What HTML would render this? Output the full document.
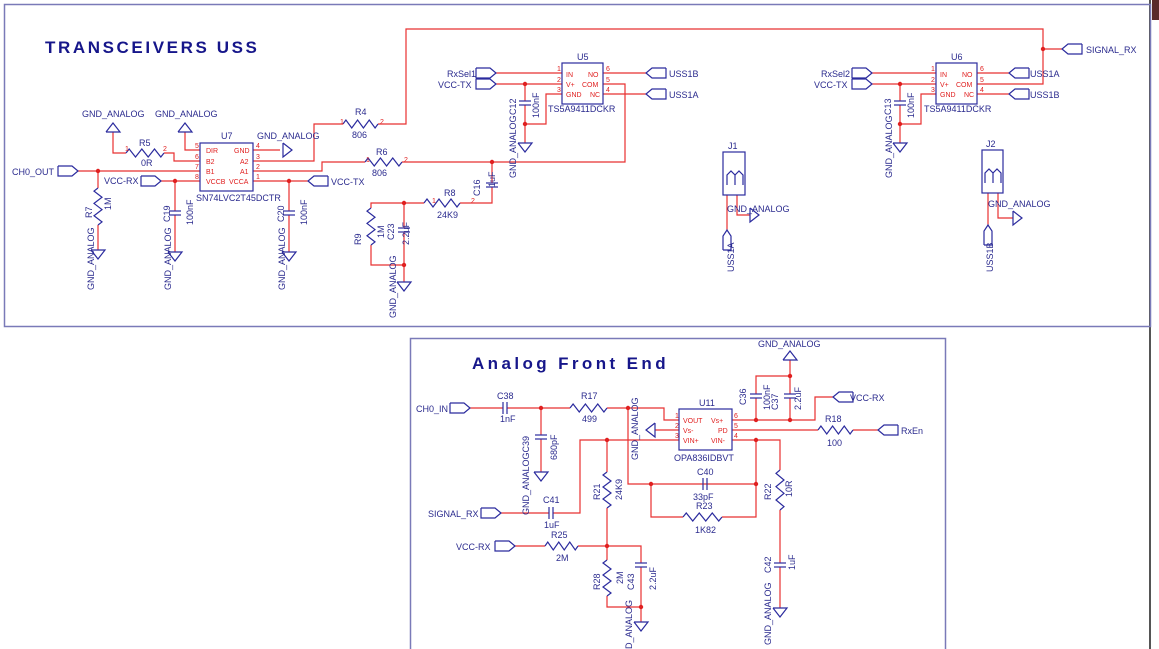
<!DOCTYPE html>
<html><head><meta charset="utf-8"><style>
html,body{margin:0;padding:0;background:#fff;width:1159px;height:649px;overflow:hidden}
svg{display:block}
text{font-family:"Liberation Sans",sans-serif;fill:#2b2b8e;font-size:9px}
.p{fill:#e02020;font-size:7px}
.t{font-size:17px;font-weight:bold;fill:#16168a}
</style></head><body>
<svg id="s" width="1159" height="649" viewBox="0 0 1159 649" xmlns="http://www.w3.org/2000/svg">
<rect x="0" y="0" width="1159" height="649" fill="#fff"/>
<rect x="1149" y="0" width="2" height="649" fill="#555"/>
<rect x="1152" y="0" width="7" height="20" fill="#5a2a2a"/>
<rect x="4.5" y="4.5" width="1146" height="322" fill="none" stroke="#7a7ab8" stroke-width="1.5"/>
<rect x="410.5" y="338.5" width="535" height="320" fill="none" stroke="#7a7ab8" stroke-width="1.5"/>
<g id="w" fill="none" stroke="#e83030" stroke-width="1.2"></g>
<g id="b" fill="none" stroke="#2b2b9e" stroke-width="1.2"></g>
<g id="j" fill="#e02020"></g>

<text class="t" x="45" y="53" style="letter-spacing:2.6px">TRANSCEIVERS USS</text>
<text class="t" x="472" y="369" style="letter-spacing:3.4px">Analog Front End</text>

<!-- U7 -->
<text x="221" y="139">U7</text>
<text x="196" y="201">SN74LVC2T45DCTR</text>
<text class="p" x="206" y="153">DIR</text><text class="p" x="206" y="164">B2</text><text class="p" x="206" y="174">B1</text><text class="p" x="206" y="184">VCCB</text>
<text class="p" x="234" y="153">GND</text><text class="p" x="240" y="164">A2</text><text class="p" x="240" y="174">A1</text><text class="p" x="229" y="184">VCCA</text>
<text class="p" x="195" y="148">5</text><text class="p" x="195" y="159">6</text><text class="p" x="195" y="169">7</text><text class="p" x="195" y="179">8</text>
<text class="p" x="256" y="148">4</text><text class="p" x="256" y="159">3</text><text class="p" x="256" y="169">2</text><text class="p" x="256" y="179">1</text>
<text x="12" y="175">CH0_OUT</text>
<text x="104" y="184">VCC-RX</text>
<text x="331" y="185">VCC-TX</text>
<text x="82" y="117">GND_ANALOG</text><text x="155" y="117">GND_ANALOG</text><text x="257" y="139">GND_ANALOG</text>
<text x="139" y="146">R5</text><text x="141" y="166">0R</text>
<text class="p" x="125" y="151">1</text><text class="p" x="163" y="151">2</text>
<text x="355" y="115">R4</text><text x="352" y="138">806</text>
<text class="p" x="340" y="124">1</text><text class="p" x="380" y="124">2</text>
<text x="376" y="155">R6</text><text x="372" y="176">806</text>
<text class="p" x="366" y="162">1</text><text class="p" x="404" y="162">2</text>
<text x="444" y="196">R8</text><text x="437" y="218">24K9</text>
<text class="p" x="432" y="203">1</text><text class="p" x="471" y="203">2</text>
<g transform="rotate(-90)">
<text x="-290" y="94">GND_ANALOG</text>
<text x="-290" y="171">GND_ANALOG</text>
<text x="-290" y="285">GND_ANALOG</text>
<text x="-218" y="92">R7</text><text x="-210" y="111">1M</text>
<text x="-222" y="170">C19</text><text x="-225" y="193">100nF</text>
<text x="-222" y="284">C20</text><text x="-225" y="307">100nF</text>
<text x="-245" y="361">R9</text><text x="-238" y="384">1M</text><text x="-240" y="394">C23</text><text x="-245" y="409">2.2uF</text>
<text x="-318" y="396">GND_ANALOG</text>
<text x="-196" y="480">C16</text><text x="-187" y="495">1uF</text>
<text x="-178" y="516">GND_ANALOG</text>
<text x="-115" y="516">C12</text><text x="-118" y="539">100nF</text>
<text x="-178" y="892">GND_ANALOG</text>
<text x="-115" y="891">C13</text><text x="-118" y="914">100nF</text>
<text x="-272" y="734">USS1A</text>
<text x="-272" y="993">USS1B</text>
</g>
<!-- U5 -->
<text x="577" y="60">U5</text><text x="548" y="112">TS5A9411DCKR</text>
<text class="p" x="566" y="77">IN</text><text class="p" x="566" y="87">V+</text><text class="p" x="566" y="97">GND</text>
<text class="p" x="588" y="77">NO</text><text class="p" x="582" y="87">COM</text><text class="p" x="590" y="97">NC</text>
<text class="p" x="557" y="71">1</text><text class="p" x="557" y="82">2</text><text class="p" x="557" y="92">3</text>
<text class="p" x="606" y="71">6</text><text class="p" x="606" y="82">5</text><text class="p" x="606" y="92">4</text>
<text x="447" y="77">RxSel1</text><text x="438" y="88">VCC-TX</text>
<text x="669" y="77">USS1B</text><text x="669" y="98">USS1A</text>
<!-- U6 -->
<text x="951" y="60">U6</text><text x="924" y="112">TS5A9411DCKR</text>
<text class="p" x="940" y="77">IN</text><text class="p" x="940" y="87">V+</text><text class="p" x="940" y="97">GND</text>
<text class="p" x="962" y="77">NO</text><text class="p" x="956" y="87">COM</text><text class="p" x="964" y="97">NC</text>
<text class="p" x="931" y="71">1</text><text class="p" x="931" y="82">2</text><text class="p" x="931" y="92">3</text>
<text class="p" x="980" y="71">6</text><text class="p" x="980" y="82">5</text><text class="p" x="980" y="92">4</text>
<text x="821" y="77">RxSel2</text><text x="814" y="88">VCC-TX</text>
<text x="1030" y="77">USS1A</text><text x="1030" y="98">USS1B</text>
<text x="1086" y="53">SIGNAL_RX</text>
<text x="728" y="149">J1</text><text x="727" y="212">GND_ANALOG</text>
<text x="986" y="147">J2</text><text x="988" y="207">GND_ANALOG</text>

<!-- Analog front end -->
<text x="699" y="406">U11</text><text x="674" y="461">OPA836IDBVT</text>
<text class="p" x="683" y="423">VOUT</text><text class="p" x="683" y="433">Vs-</text><text class="p" x="683" y="443">VIN+</text>
<text class="p" x="711" y="423">Vs+</text><text class="p" x="718" y="433">PD</text><text class="p" x="711" y="443">VIN-</text>
<text class="p" x="675" y="418">1</text><text class="p" x="675" y="428">2</text><text class="p" x="675" y="438">3</text>
<text class="p" x="734" y="418">6</text><text class="p" x="734" y="428">5</text><text class="p" x="734" y="438">4</text>
<text x="416" y="412">CH0_IN</text>
<text x="497" y="399">C38</text><text x="500" y="422">1nF</text>
<text x="581" y="399">R17</text><text x="582" y="422">499</text>
<text x="758" y="347">GND_ANALOG</text>
<text x="850" y="401">VCC-RX</text>
<text x="825" y="422">R18</text><text x="827" y="446">100</text>
<text x="901" y="434">RxEn</text>
<text x="697" y="475">C40</text><text x="693" y="500">33pF</text><text x="696" y="509">R23</text><text x="695" y="533">1K82</text>
<text x="428" y="517">SIGNAL_RX</text>
<text x="543" y="503">C41</text><text x="544" y="528">1uF</text>
<text x="551" y="538">R25</text><text x="556" y="561">2M</text>
<text x="456" y="550">VCC-RX</text>
<g transform="rotate(-90)">
<text x="-515" y="529">GND_ANALOGC39</text><text x="-460" y="557">680pF</text>
<text x="-460" y="638">GND_ANALOG</text>
<text x="-500" y="600">R21</text><text x="-500" y="622">24K9</text>
<text x="-590" y="600">R28</text><text x="-584" y="623">2M</text><text x="-590" y="634">C43</text><text x="-590" y="656">2.2uF</text>
<text x="-649" y="632">D_ANALOG</text>
<text x="-405" y="746">C36</text><text x="-410" y="770">100nF</text><text x="-410" y="778">C37</text><text x="-410" y="801">2.2uF</text>
<text x="-500" y="771">R22</text><text x="-497" y="792">10R</text>
<text x="-573" y="771">C42</text><text x="-570" y="795">1uF</text>
<text x="-645" y="771">GND_ANALOG</text>
</g>
</svg>
<script>
var NS="http://www.w3.org/2000/svg";
function el(g,t,a){var e=document.createElementNS(NS,t);for(var k in a)e.setAttribute(k,a[k]);document.getElementById(g).appendChild(e);return e;}
function W(pts){el("w","polyline",{points:pts});}
function J(x,y){el("j","circle",{cx:x,cy:y,r:2.2});}
function B(pts){el("b","polyline",{points:pts});}
function RH(x1,x2,y){var p=[],n=6,L=(x2-x1);p.push(x1+","+y);for(var i=0;i<n;i++){p.push((x1+L*(i+0.5)/n)+","+(y+(i%2?4:-4)));}p.push(x2+","+y);B(p.join(" "));}
function RV(x,y1,y2){var p=[],n=6,L=(y2-y1);p.push(x+","+y1);for(var i=0;i<n;i++){p.push((x+(i%2?4:-4))+","+(y1+L*(i+0.5)/n));}p.push(x+","+y2);B(p.join(" "));}
function CV(x,y){B((x-6)+","+(y-2)+" "+(x+6)+","+(y-2));B((x-6)+","+(y+2)+" "+(x+6)+","+(y+2));el("w","line",{x1:x,y1:y-2,x2:x,y2:y+2,stroke:"#fff","stroke-width":2});}
function CH(x,y){B((x-2)+","+(y-6)+" "+(x-2)+","+(y+6));B((x+2)+","+(y-6)+" "+(x+2)+","+(y+6));}
function GD(x,y){B((x-7)+","+y+" "+(x+7)+","+y+" "+x+","+(y+9)+" "+(x-7)+","+y);}
function GU(x,y){B((x-7)+","+y+" "+(x+7)+","+y+" "+x+","+(y-9)+" "+(x-7)+","+y);}
function GR(x,y){B(x+","+(y-7)+" "+x+","+(y+7)+" "+(x+9)+","+y+" "+x+","+(y-7));}
function GL(x,y){B(x+","+(y-7)+" "+x+","+(y+7)+" "+(x-9)+","+y+" "+x+","+(y-7));}
function PR(x,y){B(x+","+(y-5)+" "+(x+14)+","+(y-5)+" "+(x+20)+","+y+" "+(x+14)+","+(y+5)+" "+x+","+(y+5)+" "+x+","+(y-5));}
function PL(x,y){B((x+20)+","+(y-5)+" "+(x+6)+","+(y-5)+" "+x+","+y+" "+(x+6)+","+(y+5)+" "+(x+20)+","+(y+5)+" "+(x+20)+","+(y-5));}
function PUp(x,y){B((x-4)+","+(y+20)+" "+(x-4)+","+(y+6)+" "+x+","+y+" "+(x+4)+","+(y+6)+" "+(x+4)+","+(y+20)+" "+(x-4)+","+(y+20));}
function BOX(x,y,w,h){el("b","rect",{x:x,y:y,width:w,height:h});}

BOX(200,143,53,48);
PR(58,171);W("78,171 200,171");J(98,171);
W("98,171 98,188");RV(98,188,225);W("98,225 98,250");GD(98,250);
PR(141,181);W("161,181 200,181");J(175,181);W("175,181 175,211");CV(175,213);W("175,215 175,252");GD(175,252);
GU(113,132);W("113,132 113,153 126,153");RH(126,164,153);W("164,153 174,153 174,161 200,161");
GU(185,132);W("185,132 185,150 200,150");
W("253,150 280,150");GR(283,150);
W("253,161 314,161 314,124 343,124");RH(343,378,124);W("378,124 406,124 406,29 1043,29 1043,84 977,84");J(1043,49);W("1043,49 1062,49");PL(1062,49);
W("253,171 322,171 322,162 365,162");RH(365,402,162);W("402,162 625,162 625,84 603,84");J(492,162);
W("253,181 308,181");PL(308,181);J(289,181);W("289,181 289,211");CV(289,213);W("289,215 289,252");GD(289,252);
W("492,162 492,183");CV(492,185);W("492,187 492,203 460,203");RH(424,460,203);W("424,203 371,203 371,208");J(404,203);
RV(371,208,245);W("371,245 371,265 404,265");W("404,203 404,228");CV(404,230);W("404,232 404,282");J(404,265);GD(404,282);
BOX(562,63,41,41);
PR(476,73);PR(476,84);W("496,73 562,73");W("496,84 562,84");J(525,84);W("525,84 525,101");CV(525,103);W("525,105 525,143");J(525,124);GD(525,143);
W("525,124 546,124 546,94 562,94");
W("603,73 646,73");PL(646,73);W("603,94 646,94");PL(646,94);
BOX(936,63,41,41);
PR(852,73);PR(852,84);W("872,73 936,73");W("872,84 936,84");J(900,84);W("900,84 900,101");CV(900,103);W("900,105 900,143");J(900,124);GD(900,143);
W("900,124 921,124 921,94 936,94");
W("977,73 1009,73");PL(1009,73);W("977,94 1009,94");PL(1009,94);
BOX(723,152,22,43);B("727,185 727,175 731,171 735,175 735,185");B("735,175 739,171 743,175 743,185");
W("727,195 727,230");PUp(727,230);W("737,195 737,215 750,215");GR(750,215);
BOX(982,150,21,43);B("985,183 985,173 989,169 993,173 993,183");B("993,173 997,169 1001,173 1001,183");
W("988,193 988,225");PUp(988,225);W("998,193 998,218 1013,218");GR(1013,218);

BOX(679,409,53,41);
PR(450,408);W("470,408 503,408");CH(505,408);W("507,408 570,408");J(541,408);
W("541,408 541,435");CV(541,437);W("541,439 541,472");GD(541,472);
RH(570,607,408);W("607,408 664,408 664,420 679,420");J(628,408);W("628,408 628,484 756,484");J(651,484);
CH(705,484);
W("651,484 651,517 683,517");RH(683,722,517);W("722,517 756,517 756,440");J(756,484);J(756,440);
GL(655,430);W("655,430 679,430");
W("679,440 580,440 580,513 553,513");CH(551,513);W("549,513 501,513");PR(481,513);J(607,440);
W("607,440 607,472");RV(607,472,508);W("607,508 607,546");J(607,546);
PR(495,546);W("515,546 545,546");RH(545,578,546);W("578,546 641,546 641,563");CV(641,565);W("641,567 641,622");J(641,607);GD(641,622);
W("607,546 607,560");RV(607,560,596);W("607,596 607,607 641,607");
W("732,420 815,420 815,397 833,397");PL(833,397);J(756,420);J(790,420);
W("756,420 756,398");CV(756,396);W("756,394 756,376 790,376");W("790,420 790,398");CV(790,396);W("790,394 790,360");J(790,376);GU(790,360);
W("732,430 818,430");RH(818,853,430);W("853,430 878,430");PL(878,430);
W("732,440 780,440 780,470");RV(780,470,510);W("780,510 780,563");CV(780,565);W("780,567 780,608");GD(780,608);
</script>
</body></html>
